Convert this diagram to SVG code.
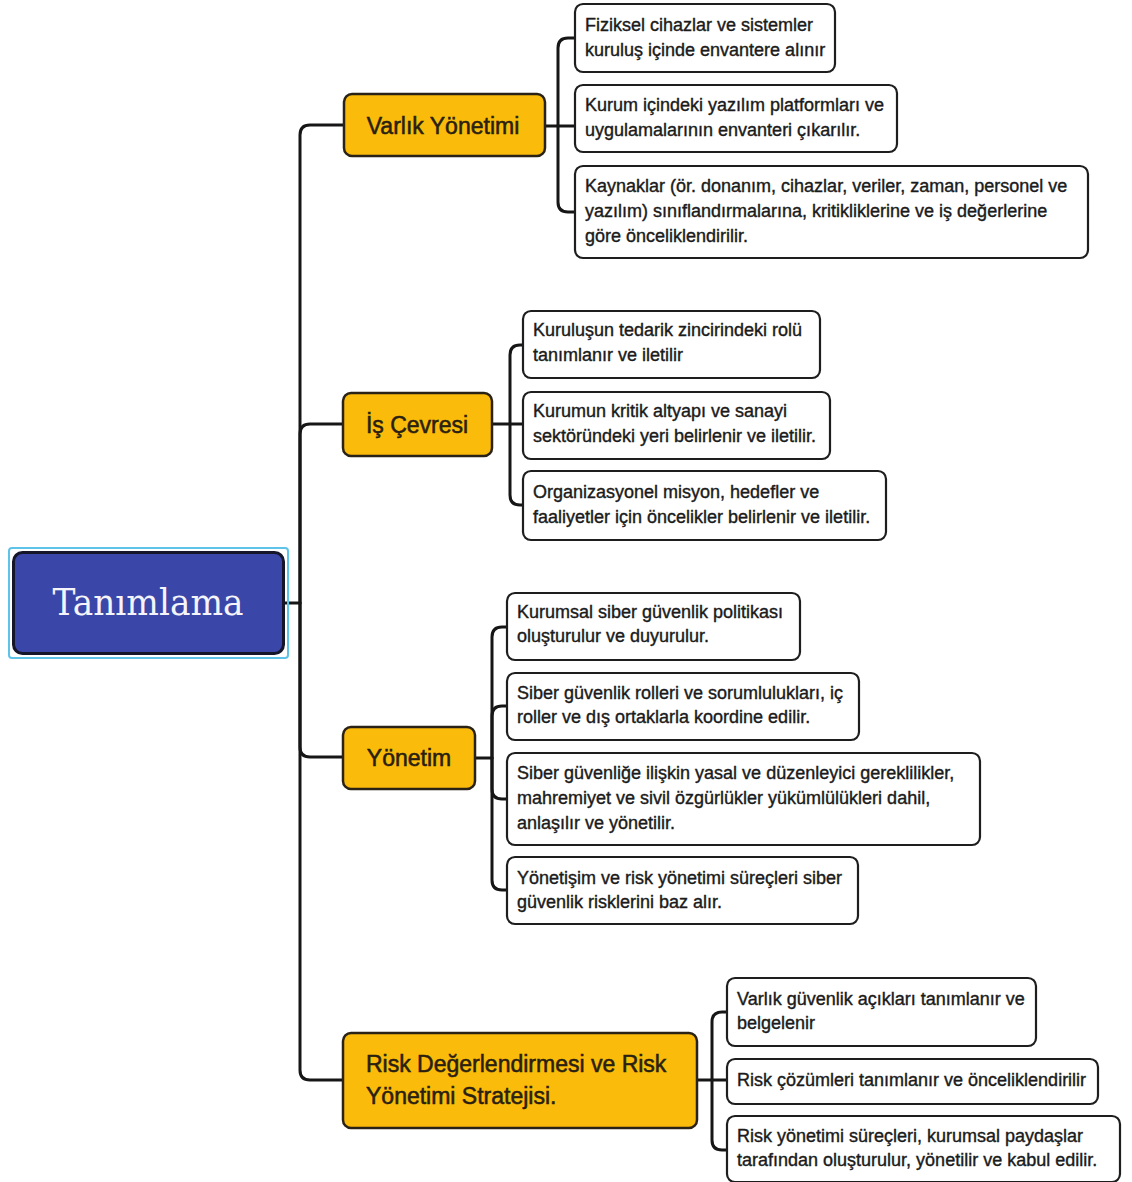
<svg xmlns="http://www.w3.org/2000/svg" width="1132" height="1182" viewBox="0 0 1132 1182">
  <style>
    .bg { fill: #ffffff; }
    .wire { fill: none; stroke: #161616; stroke-width: 3; stroke-linejoin: round; stroke-linecap: round; }
    .root { fill: #3a47a9; stroke: #15162a; stroke-width: 3; }
    .sel { fill: none; stroke: #5ec3e8; stroke-width: 2; }
    .branch { fill: #fbbb0a; stroke: #2a2216; stroke-width: 2.5; }
    .leaf { fill: #ffffff; stroke: #1e1e1e; stroke-width: 2.2; }
    .rt { font-family: "DejaVu Serif", "Liberation Serif", serif; font-size: 38px; fill: #f4f4fa; text-anchor: middle; }
    .bt { font-family: "Liberation Sans", Arial, sans-serif; font-size: 23px; fill: #2a1f10; stroke: #2a1f10; stroke-width: 0.55; }
    .lt { font-family: "Liberation Sans", Arial, sans-serif; font-size: 18px; fill: #1b1b1b; stroke: #1b1b1b; stroke-width: 0.4; }
    .mid { text-anchor: middle; }
  </style>
  <rect class="bg" x="0" y="0" width="1132" height="1182"/>

  <!-- connectors -->
  <g id="connectors">
    <!-- root to branches -->
    <path class="wire" d="M284 603 H300 V135 Q300 125 310 125 H344"/>
    <path class="wire" d="M300 603 V434 Q300 424 310 424 H343"/>
    <path class="wire" d="M300 603 V747 Q300 757 310 757 H343"/>
    <path class="wire" d="M300 603 V1070 Q300 1080 310 1080 H343"/>
    <!-- Varlık Yönetimi leaves -->
    <path class="wire" d="M545 126 H558 V48 Q558 38 568 38 H575"/>
    <path class="wire" d="M558 126 H575"/>
    <path class="wire" d="M558 126 V202 Q558 212 568 212 H575"/>
    <!-- İş Çevresi leaves -->
    <path class="wire" d="M492 424 H510 V355 Q510 345 520 345 H523"/>
    <path class="wire" d="M510 424 H523"/>
    <path class="wire" d="M510 424 V495 Q510 505 520 505 H523"/>
    <!-- Yönetim leaves -->
    <path class="wire" d="M475 758 H492 V637 Q492 627 502 627 H507"/>
    <path class="wire" d="M492 758 V716 Q492 706 502 706 H507"/>
    <path class="wire" d="M492 758 V789 Q492 799 502 799 H507"/>
    <path class="wire" d="M492 758 V880 Q492 890 502 890 H507"/>
    <!-- Risk leaves -->
    <path class="wire" d="M696 1080 H712 V1022 Q712 1012 722 1012 H727"/>
    <path class="wire" d="M712 1080 H727"/>
    <path class="wire" d="M712 1080 V1140 Q712 1150 722 1150 H727"/>
  </g>

  <!-- root -->
  <g id="root">
    <rect class="sel" x="9" y="548" width="279" height="110" rx="3"/>
    <rect class="root" x="13.5" y="552.5" width="270" height="101" rx="9"/>
    <text class="rt" x="148" y="615" textLength="191" lengthAdjust="spacingAndGlyphs">Tanımlama</text>
  </g>

  <!-- branches -->
  <g id="b-varlik">
    <rect class="branch" x="344" y="94" width="201" height="62" rx="8"/>
    <text class="bt mid" x="443" y="133.5">Varlık Yönetimi</text>
  </g>
  <g id="b-is">
    <rect class="branch" x="343" y="393" width="149" height="63" rx="8"/>
    <text class="bt mid" x="417" y="432.5">İş Çevresi</text>
  </g>
  <g id="b-yonetim">
    <rect class="branch" x="343" y="727" width="132" height="62" rx="8"/>
    <text class="bt mid" x="409" y="766">Yönetim</text>
  </g>
  <g id="b-risk">
    <rect class="branch" x="343" y="1033" width="354" height="95" rx="8"/>
    <text class="bt" x="366" y="1072">Risk Değerlendirmesi ve Risk</text>
    <text class="bt" x="366" y="1104">Yönetimi Stratejisi.</text>
  </g>

  <!-- Varlık Yönetimi leaves -->
  <g id="l-varlik-1">
    <rect class="leaf" x="575" y="4" width="260" height="68" rx="8"/>
    <text class="lt" x="585" y="31">Fiziksel cihazlar ve sistemler</text>
    <text class="lt" x="585" y="56">kuruluş içinde envantere alınır</text>
  </g>
  <g id="l-varlik-2">
    <rect class="leaf" x="575" y="85" width="322" height="67" rx="8"/>
    <text class="lt" x="585" y="111">Kurum içindeki yazılım platformları ve</text>
    <text class="lt" x="585" y="136">uygulamalarının envanteri çıkarılır.</text>
  </g>
  <g id="l-varlik-3">
    <rect class="leaf" x="575" y="166" width="513" height="92" rx="8"/>
    <text class="lt" x="585" y="192">Kaynaklar (ör. donanım, cihazlar, veriler, zaman, personel ve</text>
    <text class="lt" x="585" y="217">yazılım) sınıflandırmalarına, kritikliklerine ve iş değerlerine</text>
    <text class="lt" x="585" y="242">göre önceliklendirilir.</text>
  </g>

  <!-- İş Çevresi leaves -->
  <g id="l-is-1">
    <rect class="leaf" x="523" y="311" width="297" height="67" rx="8"/>
    <text class="lt" x="533" y="336">Kuruluşun tedarik zincirindeki rolü</text>
    <text class="lt" x="533" y="361">tanımlanır ve iletilir</text>
  </g>
  <g id="l-is-2">
    <rect class="leaf" x="523" y="392" width="307" height="67" rx="8"/>
    <text class="lt" x="533" y="417">Kurumun kritik altyapı ve sanayi</text>
    <text class="lt" x="533" y="442">sektöründeki yeri belirlenir ve iletilir.</text>
  </g>
  <g id="l-is-3">
    <rect class="leaf" x="523" y="471" width="363" height="69" rx="8"/>
    <text class="lt" x="533" y="498">Organizasyonel misyon, hedefler ve</text>
    <text class="lt" x="533" y="523">faaliyetler için öncelikler belirlenir ve iletilir.</text>
  </g>

  <!-- Yönetim leaves -->
  <g id="l-yon-1">
    <rect class="leaf" x="507" y="593" width="293" height="67" rx="8"/>
    <text class="lt" x="517" y="618">Kurumsal siber güvenlik politikası</text>
    <text class="lt" x="517" y="642">oluşturulur ve duyurulur.</text>
  </g>
  <g id="l-yon-2">
    <rect class="leaf" x="507" y="673" width="352" height="67" rx="8"/>
    <text class="lt" x="517" y="699">Siber güvenlik rolleri ve sorumlulukları, iç</text>
    <text class="lt" x="517" y="723">roller ve dış ortaklarla koordine edilir.</text>
  </g>
  <g id="l-yon-3">
    <rect class="leaf" x="507" y="753" width="473" height="92" rx="8"/>
    <text class="lt" x="517" y="779">Siber güvenliğe ilişkin yasal ve düzenleyici gereklilikler,</text>
    <text class="lt" x="517" y="804">mahremiyet ve sivil özgürlükler yükümlülükleri dahil,</text>
    <text class="lt" x="517" y="829">anlaşılır ve yönetilir.</text>
  </g>
  <g id="l-yon-4">
    <rect class="leaf" x="507" y="857" width="351" height="67" rx="8"/>
    <text class="lt" x="517" y="884">Yönetişim ve risk yönetimi süreçleri siber</text>
    <text class="lt" x="517" y="908">güvenlik risklerini baz alır.</text>
  </g>

  <!-- Risk leaves -->
  <g id="l-risk-1">
    <rect class="leaf" x="727" y="978" width="309" height="68" rx="8"/>
    <text class="lt" x="737" y="1005">Varlık güvenlik açıkları tanımlanır ve</text>
    <text class="lt" x="737" y="1029">belgelenir</text>
  </g>
  <g id="l-risk-2">
    <rect class="leaf" x="727" y="1059" width="371" height="45" rx="8"/>
    <text class="lt" x="737" y="1086">Risk çözümleri tanımlanır ve önceliklendirilir</text>
  </g>
  <g id="l-risk-3">
    <rect class="leaf" x="727" y="1116" width="393" height="66" rx="8"/>
    <text class="lt" x="737" y="1142">Risk yönetimi süreçleri, kurumsal paydaşlar</text>
    <text class="lt" x="737" y="1166">tarafından oluşturulur, yönetilir ve kabul edilir.</text>
  </g>
</svg>
